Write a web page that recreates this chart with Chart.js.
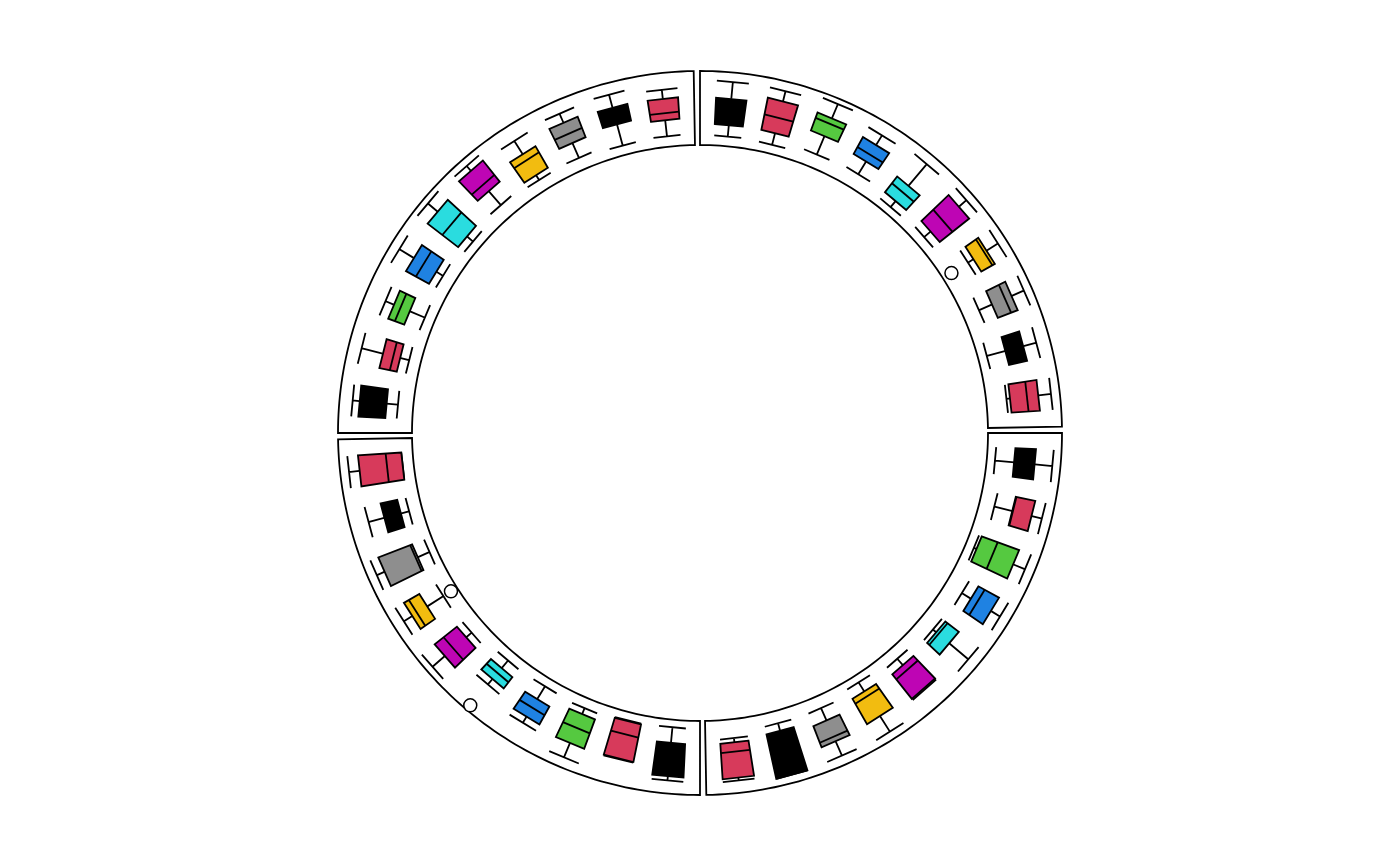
<!DOCTYPE html>
<html>
<head>
<meta charset="utf-8">
<script src="https://cdn.jsdelivr.net/npm/chart.js@4/dist/chart.umd.min.js"></script>
<style>
  html, body { margin: 0; padding: 0; background: #fff; }
  #wrap { width: 1400px; height: 866px; }
</style>
</head>
<body>
<div id="wrap"><canvas id="chart" width="1400" height="866"></canvas></div>
<script>
// sectors go clockwise, the first one starts at 3 o'clock
const sectors = ["a", "b", "c", "d"];
const positions = [0.5, 1.5, 2.5, 3.5, 4.5, 5.5, 6.5, 7.5, 8.5, 9.5];
const boxColors = ["#000000", "#D73A5B", "#55C940", "#1F82E2", "#2ADCDF",
                   "#BE05B4", "#F2BC10", "#8E8E8E", "#000000", "#D73A5B"];

// [min, q1, median, q3, max], one row per position
const statsA = [
  [0.10, 0.37, 0.50, 0.66, 0.91],
  [0.20, 0.46, 0.47, 0.74, 0.89],
  [0.11, 0.15, 0.39, 0.71, 0.89],
  [0.25, 0.40, 0.50, 0.73, 0.88],
  [0.22, 0.28, 0.32, 0.52, 0.87],
  [0.15, 0.27, 0.36, 0.71, 0.73],
  [0.09, 0.24, 0.32, 0.65, 0.91],
  [0.16, 0.35, 0.60, 0.67, 0.89],
  [0.16, 0.27, 0.60, 0.91, 0.91],
  [0.25, 0.31, 0.44, 0.81, 0.85]
];
const statsB = [
  [0.09, 0.31, 0.55, 0.78, 0.84],
  [0.10, 0.11, 0.30, 0.65, 0.66],
  [0.13, 0.22, 0.43, 0.66, 0.88],
  [0.11, 0.32, 0.46, 0.61, 0.71],
  [0.12, 0.26, 0.35, 0.46, 0.56],
  [0.20, 0.30, 0.54, 0.70, 0.93],
  [0.21, 0.48, 0.65, 0.73, 0.87],
  [0.09, 0.27, 0.30, 0.78, 0.90],
  [0.17, 0.29, 0.40, 0.53, 0.76],
  [0.14, 0.14, 0.36, 0.75, 0.90]
];
const statsC = [
  [0.20, 0.36, 0.55, 0.74, 0.84],
  [0.15, 0.28, 0.38, 0.53, 0.84],
  [0.13, 0.36, 0.50, 0.60, 0.73],
  [0.17, 0.28, 0.49, 0.65, 0.89],
  [0.11, 0.22, 0.50, 0.76, 0.94],
  [0.19, 0.45, 0.57, 0.83, 0.92],
  [0.15, 0.23, 0.48, 0.58, 0.80],
  [0.16, 0.39, 0.53, 0.70, 0.84],
  [0.12, 0.43, 0.55, 0.67, 0.86],
  [0.13, 0.36, 0.46, 0.66, 0.79]
];
const statsD = [
  [0.12, 0.28, 0.45, 0.65, 0.89],
  [0.11, 0.28, 0.50, 0.74, 0.89],
  [0.18, 0.46, 0.65, 0.73, 0.95],
  [0.20, 0.41, 0.52, 0.68, 0.84],
  [0.09, 0.20, 0.36, 0.48, 0.88],
  [0.12, 0.24, 0.47, 0.77, 0.91],
  [0.40, 0.49, 0.67, 0.71, 0.90],
  [0.22, 0.42, 0.62, 0.72, 0.91],
  [0.11, 0.38, 0.50, 0.64, 0.83],
  [0.27, 0.32, 0.56, 0.72, 0.90]
];
const outlierSectors = ["b", "b", "d"];
const outlierPos = [4.5, 6.5, 6.5];
const outlierValues = [0.94, 0.08, 0.12];

const allStats = { a: statsA, b: statsB, c: statsC, d: statsD };

// layout of the circle (in pixel-like units, centre at 0,0)
const R_IN = 288, R_OUT = 362;
const GAP = 1, CELL_PAD = 1, BOX_W = 0.6;
const SPAN = (360 - GAP * sectors.length) / sectors.length;

function theta(k, x) {
  // degrees clockwise from 3 o'clock
  return k * (SPAN + GAP) + CELL_PAD + (x / 10) * (SPAN - 2 * CELL_PAD);
}
function radius(v) {
  return R_IN + (R_OUT - R_IN) * (v + 0.02) / 1.04;
}
function polar(t, r) {
  const a = t * Math.PI / 180;
  return { x: r * Math.cos(a), y: -r * Math.sin(a) };
}

const outlierPoints = outlierValues.map((v, i) =>
  polar(theta(sectors.indexOf(outlierSectors[i]), outlierPos[i]), radius(v)));

const circosPlugin = {
  id: "circos",
  beforeDatasetsDraw(chart) {
    const ctx = chart.ctx;
    const xs = chart.scales.x, ys = chart.scales.y;
    const px = p => [xs.getPixelForValue(p.x), ys.getPixelForValue(p.y)];
    const lineTo = (p, first) => {
      const [a, b] = px(p);
      if (first) ctx.moveTo(a, b); else ctx.lineTo(a, b);
    };
    ctx.save();
    ctx.strokeStyle = "#000";
    ctx.lineWidth = 1.8;
    ctx.lineJoin = "miter";

    // sector borders
    sectors.forEach((s, k) => {
      const t0 = k * (SPAN + GAP), t1 = t0 + SPAN;
      ctx.beginPath();
      const n = 90;
      for (let i = 0; i <= n; i++) lineTo(polar(t0 + (t1 - t0) * i / n, R_OUT), i === 0);
      for (let i = n; i >= 0; i--) lineTo(polar(t0 + (t1 - t0) * i / n, R_IN), false);
      ctx.closePath();
      ctx.stroke();
    });

    // boxplots
    sectors.forEach((s, k) => {
      allStats[s].forEach((st, i) => {
        const x = positions[i];
        const tl = theta(k, x - BOX_W / 2), tr = theta(k, x + BOX_W / 2), tc = theta(k, x);
        const [mn, q1, md, q3, mx] = st.map(radius);
        // whiskers
        ctx.beginPath();
        lineTo(polar(tc, q3), true); lineTo(polar(tc, mx), false);
        lineTo(polar(tc, q1), true); lineTo(polar(tc, mn), false);
        // caps
        lineTo(polar(tl, mx), true); lineTo(polar(tr, mx), false);
        lineTo(polar(tl, mn), true); lineTo(polar(tr, mn), false);
        ctx.stroke();
        // box
        ctx.beginPath();
        lineTo(polar(tl, q1), true);
        lineTo(polar(tr, q1), false);
        lineTo(polar(tr, q3), false);
        lineTo(polar(tl, q3), false);
        ctx.closePath();
        ctx.fillStyle = boxColors[i];
        ctx.fill();
        ctx.stroke();
        // median
        ctx.beginPath();
        lineTo(polar(tl, md), true); lineTo(polar(tr, md), false);
        ctx.stroke();
      });
    });
    ctx.restore();
  }
};

new Chart(document.getElementById("chart").getContext("2d"), {
  type: "scatter",
  data: {
    datasets: [{
      label: "outliers",
      data: outlierPoints,
      pointRadius: 6.5,
      pointHoverRadius: 6.5,
      backgroundColor: "#fff",
      borderColor: "#000",
      borderWidth: 1.5
    }]
  },
  options: {
    responsive: false,
    animation: false,
    layout: { padding: 0, autoPadding: false },
    plugins: { legend: { display: false }, tooltip: { enabled: false } },
    scales: {
      x: { type: "linear", min: -700, max: 700, display: false },
      y: { type: "linear", min: -433, max: 433, display: false }
    }
  },
  plugins: [circosPlugin]
});
</script>
</body>
</html>
